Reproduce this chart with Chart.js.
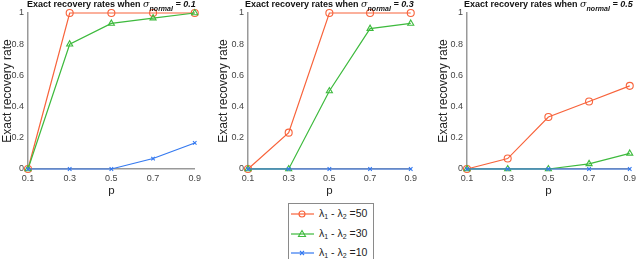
<!DOCTYPE html>
<html>
<head>
<meta charset="utf-8">
<script src="https://cdn.jsdelivr.net/npm/chart.js@4"></script>
<style>
  body { margin: 0; width: 640px; height: 259px; background: #fff; overflow: hidden; position: relative;
         font-family: Arial, "Liberation Sans", sans-serif; }
  .panel { position: absolute; top: 0; height: 200px; }
  #legend { position: absolute; left: 288px; top: 203px; width: 84px; height: 70px;
            border: 1px solid #8a8a8a; background: #fff; }
  .row { position: absolute; left: 0; height: 18px; font-size: 10.5px; color: #222; white-space: nowrap; }
  .row svg { position: absolute; left: 1px; top: 3px; }
  .row span { position: absolute; left: 30px; top: 2px; }
  sub { font-size: 7px; vertical-align: -2px; }
</style>
</head>
<body>
<div class="panel" style="left:0;width:205px"><canvas id="c1"></canvas></div>
<div class="panel" style="left:216px;width:205px"><canvas id="c2"></canvas></div>
<div class="panel" style="left:436px;width:204px"><canvas id="c3"></canvas></div>
<div id="legend"></div>
<script>
const pValues = ['0.1', '0.3', '0.5', '0.7', '0.9'];
const sigmas = ['0.1', '0.3', '0.5'];
const gaps = [50, 30, 10];

// recovery rate per sigma, per lambda gap
const rate50 = [
  [0, 1, 1, 1, 1],
  [0, 0.233, 1, 1, 1],
  [0, 0.067, 0.333, 0.433, 0.533]
];
const rate30 = [
  [0, 0.8, 0.933, 0.967, 1],
  [0, 0, 0.5, 0.9, 0.933],
  [0, 0, 0, 0.033, 0.1]
];
const rate10 = [
  [0, 0, 0, 0.067, 0.167],
  [0, 0, 0, 0, 0],
  [0, 0, 0, 0, 0]
];
const yTicks = [0, 0.2, 0.4, 0.6, 0.8, 1];

const colors = ['#f8633b', '#3dba3d', '#3479f0'];
const markers = ['circle', 'triangle', 'crossRot'];
const radii = [3.5, 3.5, 2.5];

const yWidths = [28, 32, 31];
const rightPads = [10, 8, 8];

// title with sigma and subscript drawn by hand
const titlePlugin = {
  id: 'sigmaTitle',
  afterDraw(chart, args, opts) {
    const ctx = chart.ctx;
    const parts = [
      { t: 'Exact recovery rates when ', f: 'bold 9px Arial, "Liberation Sans"', dy: 0 },
      { t: 'σ', f: 'italic 9.5px "DejaVu Serif", serif', dy: 0 },
      { t: 'normal', f: 'bold italic 7px Arial, "Liberation Sans"', dy: 4 },
      { t: ' = ' + opts.sigma, f: 'bold italic 9px Arial, "Liberation Sans"', dy: 0 }
    ];
    let w = 0;
    parts.forEach((p) => { ctx.font = p.f; p.w = ctx.measureText(p.t).width; w += p.w; });
    let x = (chart.chartArea.left + chart.chartArea.right) / 2 - w / 2;
    ctx.save();
    ctx.fillStyle = '#111';
    ctx.textBaseline = 'alphabetic';
    parts.forEach((p) => {
      ctx.font = p.f;
      ctx.fillText(p.t, x, 7 + p.dy);
      x += p.w;
    });
    ctx.restore();
  }
};

function makeChart(id, i) {
  const series = [rate50[i], rate30[i], rate10[i]];
  return new Chart(document.getElementById(id), {
    type: 'line',
    plugins: [titlePlugin],
    data: {
      labels: pValues,
      datasets: series.map((d, k) => ({
        label: 'λ1 - λ2 =' + gaps[k],
        data: d,
        borderColor: colors[k],
        backgroundColor: 'rgba(0,0,0,0)',
        borderWidth: 1.2,
        pointStyle: markers[k],
        pointRadius: radii[k],
        pointBorderWidth: 1.1,
        pointBorderColor: colors[k],
        pointBackgroundColor: 'rgba(0,0,0,0)',
        tension: 0,
        clip: false,
        order: 2 - k
      }))
    },
    options: {
      responsive: true,
      maintainAspectRatio: false,
      animation: false,
      layout: { padding: { top: 13, right: rightPads[i], left: 0, bottom: 0 } },
      plugins: {
        legend: { display: false },
        tooltip: { enabled: false },
        sigmaTitle: { sigma: sigmas[i] }
      },
      scales: {
        x: {
          type: 'category',
          offset: false,
          grid: { display: false, drawTicks: false },
          border: { color: '#999', width: 1.5 },
          ticks: { color: '#444', font: { size: 9, family: 'Arial' }, padding: 4, maxRotation: 0, autoSkip: false },
          title: { display: true, text: 'p', color: '#222', font: { size: 11.5, family: 'Arial' }, padding: 2 },
          afterFit: (s) => { s.height = 31; }
        },
        y: {
          min: 0,
          max: 1,
          grid: { display: false, drawTicks: false },
          border: { color: '#999', width: 1.5 },
          afterBuildTicks: (s) => { s.ticks = yTicks.map((v) => ({ value: v })); },
          ticks: { color: '#444', font: { size: 9, family: 'Arial' }, padding: 4, callback: (v) => String(v) },
          title: { display: true, text: 'Exact recovery rate', color: '#222', font: { size: 12, family: 'Arial' }, padding: 0 },
          afterFit: (s) => { s.width = yWidths[i]; }
        }
      }
    }
  });
}

makeChart('c1', 0);
makeChart('c2', 1);
makeChart('c3', 2);

// legend box
const legend = document.getElementById('legend');
const markerSvg = [
  (c) => `<circle cx="12" cy="6" r="3" fill="none" stroke="${c}" stroke-width="1.1"/>`,
  (c) => `<polygon points="12,2.5 15.5,8.5 8.5,8.5" fill="none" stroke="${c}" stroke-width="1.1"/>`,
  (c) => `<path d="M10,4 L14,8 M14,4 L10,8" stroke="${c}" stroke-width="1.1"/>`
];
gaps.forEach((g, k) => {
  const row = document.createElement('div');
  row.className = 'row';
  row.style.top = (1 + k * 19.5) + 'px';
  row.innerHTML = `<svg width="26" height="12"><line x1="1" y1="6" x2="24" y2="6" stroke="${colors[k]}" stroke-width="1.2"/>${markerSvg[k](colors[k])}</svg>` +
    `<span>λ<sub>1</sub> - λ<sub>2</sub> =${g}</span>`;
  legend.appendChild(row);
});
</script>
</body>
</html>
